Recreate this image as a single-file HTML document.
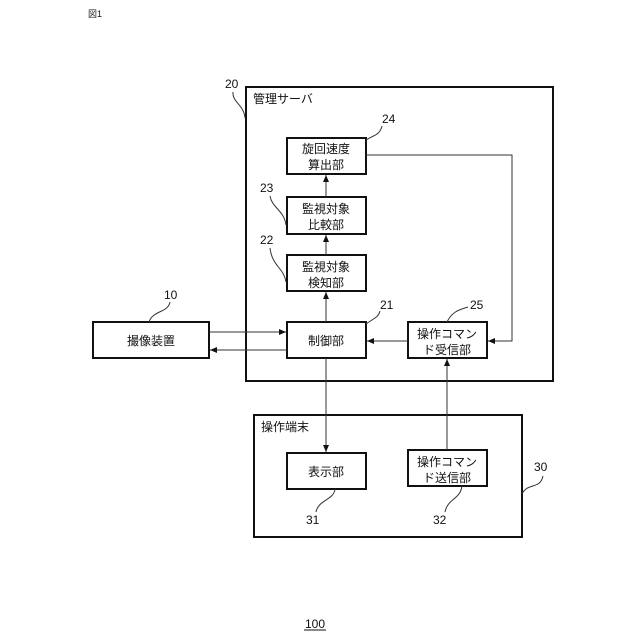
<!DOCTYPE html>
<html><head><meta charset="utf-8"><style>
html,body{margin:0;padding:0;background:#fff;}
svg{display:block;}
text{font-family:"Liberation Sans","Noto Sans CJK JP",sans-serif;fill:#111;}
</style></head><body>
<svg width="640" height="640" viewBox="0 0 640 640" xmlns="http://www.w3.org/2000/svg">
<defs>
<marker id="a" markerWidth="8" markerHeight="8" refX="7" refY="4" orient="auto" markerUnits="userSpaceOnUse">
<path d="M0,1 L7,4 L0,7 z" fill="#111"/></marker>
</defs>
<text x="88" y="17" font-size="9" font-family="Liberation Serif,Noto Serif CJK SC,serif">図1</text>

<g fill="none" stroke="#111" stroke-width="2">
<rect x="246" y="87" width="307" height="294"/>
<rect x="254" y="415" width="268" height="122"/>
<rect x="93" y="322" width="116" height="36"/>
<rect x="287" y="138" width="79" height="36"/>
<rect x="287" y="197" width="79" height="37"/>
<rect x="287" y="255" width="79" height="36"/>
<rect x="287" y="322" width="79" height="36"/>
<rect x="408" y="322" width="79" height="36"/>
<rect x="287" y="453" width="79" height="36"/>
<rect x="408" y="450" width="79" height="36"/>
</g>

<g fill="none" stroke="#333" stroke-width="1">
<line x1="326" y1="197" x2="326" y2="175" marker-end="url(#a)"/>
<line x1="326" y1="255" x2="326" y2="235" marker-end="url(#a)"/>
<line x1="326" y1="322" x2="326" y2="292" marker-end="url(#a)"/>
<polyline points="366,155 512,155 512,341 488,341" marker-end="url(#a)"/>
<line x1="408" y1="341" x2="367" y2="341" marker-end="url(#a)"/>
<line x1="209" y1="332" x2="286" y2="332" marker-end="url(#a)"/>
<line x1="287" y1="350" x2="210" y2="350" marker-end="url(#a)"/>
<line x1="326" y1="358" x2="326" y2="452" marker-end="url(#a)"/>
<line x1="447" y1="450" x2="447" y2="359" marker-end="url(#a)"/>
<!-- leaders -->
<path d="M245,118 C244,105 232,102 233,92"/>
<path d="M366,140 C374,135 380,135 382,126"/>
<path d="M286,225 C284,210 272,208 270,196"/>
<path d="M286,282 C284,268 272,266 270,248"/>
<path d="M366,324 C374,318 378,318 380,311"/>
<path d="M447,322 C452,312 458,310 468,307"/>
<path d="M149,322 C153,310 168,313 170,302"/>
<path d="M522,494 C528,482 540,490 543,476"/>
<path d="M335,489 C334,500 318,500 316,512"/>
<path d="M462,486 C460,500 448,498 445,512"/>
</g>

<g font-size="12">
<text x="225" y="88">20</text>
<text x="382" y="123">24</text>
<text x="260" y="192">23</text>
<text x="260" y="244">22</text>
<text x="380" y="309">21</text>
<text x="470" y="309">25</text>
<text x="164" y="299">10</text>
<text x="534" y="471">30</text>
<text x="306" y="524">31</text>
<text x="433" y="524">32</text>
<text x="305" y="628">100</text>
</g>
<line x1="304" y1="630" x2="326" y2="630" stroke="#111" stroke-width="1"/>

<g font-size="12" text-anchor="middle">
<text x="326" y="153">旋回速度</text>
<text x="326" y="169">算出部</text>
<text x="326" y="213">監視対象</text>
<text x="326" y="229">比較部</text>
<text x="326" y="271">監視対象</text>
<text x="326" y="287">検知部</text>
<text x="326" y="345">制御部</text>
<text x="447" y="338">操作コマン</text>
<text x="447" y="354">ド受信部</text>
<text x="151" y="345">撮像装置</text>
<text x="326" y="476">表示部</text>
<text x="447" y="466">操作コマン</text>
<text x="447" y="482">ド送信部</text>
</g>
<g font-size="12">
<text x="253" y="103">管理サーバ</text>
<text x="261" y="431">操作端末</text>
</g>
</svg>
</body></html>
